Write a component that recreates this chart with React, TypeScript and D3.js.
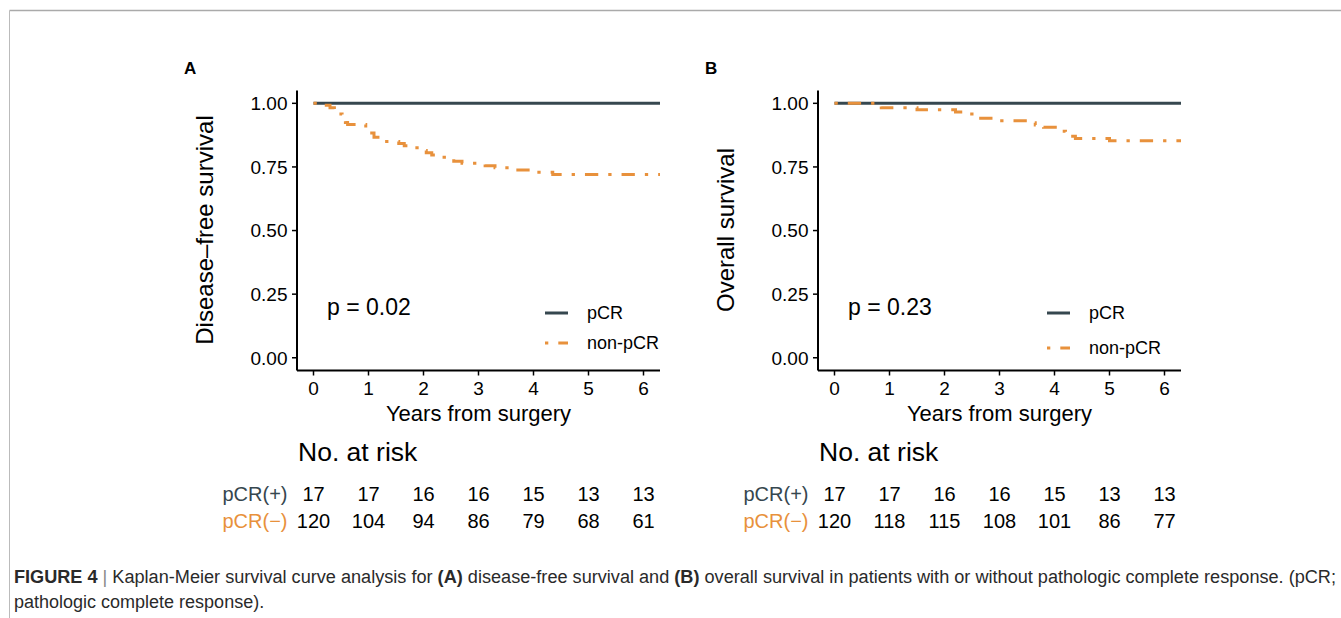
import React from 'react';
import * as d3 from 'd3';

// tick values
const yearTicks = [0, 1, 2, 3, 4, 5, 6];
const survTicks = [0, 0.25, 0.5, 0.75, 1];

// pCR group: no events in either endpoint
const pcrTime = [0, 6.3];
const pcrSurv = [1, 1];

// non-pCR, disease-free survival
const dfsTime = [0, 0.2, 0.3, 0.38, 0.45, 0.52, 0.58, 0.62, 0.95, 1.02, 1.1, 1.2, 1.55, 1.65, 1.78, 1.95, 2.05, 2.15, 2.28, 2.38, 2.55, 2.7, 3.12, 3.3, 3.55, 3.95, 4.35, 6.3];
const dfsSurv = [1, 0.992, 0.983, 0.975, 0.958, 0.942, 0.925, 0.917, 0.9, 0.883, 0.867, 0.85, 0.842, 0.833, 0.825, 0.815, 0.806, 0.797, 0.788, 0.78, 0.772, 0.764, 0.755, 0.747, 0.738, 0.729, 0.72, 0.72];

// non-pCR, overall survival
const osTime = [0, 0.8, 0.85, 1.5, 2.2, 2.45, 2.55, 2.6, 3.0, 3.5, 3.65, 3.8, 4.05, 4.2, 4.3, 4.38, 5.0, 6.3];
const osSurv = [1, 0.992, 0.983, 0.975, 0.966, 0.958, 0.95, 0.941, 0.932, 0.924, 0.915, 0.906, 0.89, 0.881, 0.871, 0.862, 0.853, 0.853];

// numbers at risk
const dfsRiskPos = [17, 17, 16, 16, 15, 13, 13];
const dfsRiskNeg = [120, 104, 94, 86, 79, 68, 61];
const osRiskPos = [17, 17, 16, 16, 15, 13, 13];
const osRiskNeg = [120, 118, 115, 108, 101, 86, 77];

const DARK = '#36474f';
const ORANGE = '#e8913c';
const FONT = '"Liberation Sans", Arial, Helvetica, sans-serif';
const DASH = '3.3 10 13.3 10';

type PanelProps = {
  axisX: number;
  letter: string;
  ylab: string;
  pText: string;
  negTime: number[];
  negSurv: number[];
  riskPos: number[];
  riskNeg: number[];
  legX: number;
  legY2: number;
};

const Panel = ({ axisX, letter, ylab, pText, negTime, negSurv, riskPos, riskNeg, legX, legY2 }: PanelProps) => {
  const x = d3.scaleLinear().domain([-0.3, 6.3]).range([axisX, axisX + 363]);
  const y = d3.scaleLinear().domain([-0.05, 1.05]).range([370.5, 90.6]);

  const line = d3
    .line<[number, number]>()
    .x(d => x(d[0]))
    .y(d => y(d[1]))
    .curve(d3.curveStepAfter);

  const pcrPath = line(pcrTime.map((t, i) => [t, pcrSurv[i]]) as [number, number][]) || '';
  const negPath = line(negTime.map((t, i) => [t, negSurv[i]]) as [number, number][]) || '';
  const yBottom = y(-0.05);

  return (
    <g fontFamily={FONT}>
      <text x={axisX - 113} y={74} fontSize={17} fontWeight="bold">{letter}</text>

      {/* curves */}
      <path d={pcrPath} fill="none" stroke={DARK} strokeWidth={3} />
      <path d={negPath} fill="none" stroke={ORANGE} strokeWidth={3} strokeDasharray={DASH} />

      {/* y axis */}
      <line x1={axisX} x2={axisX} y1={y(1.05)} y2={yBottom} stroke="#000" strokeWidth={2} />
      {survTicks.map(t => (
        <g key={t}>
          <line x1={axisX - 5} x2={axisX} y1={y(t)} y2={y(t)} stroke="#000" strokeWidth={1.5} />
          <text x={axisX - 9.5} y={y(t)} dy="0.36em" textAnchor="end" fontSize={19}>{t.toFixed(2)}</text>
        </g>
      ))}
      <text transform={`translate(${axisX - 84},230) rotate(-90)`} textAnchor="middle" fontSize={24}>{ylab}</text>

      {/* x axis */}
      <line x1={axisX} x2={x(6.3)} y1={yBottom} y2={yBottom} stroke="#000" strokeWidth={2} />
      {yearTicks.map(t => (
        <g key={t}>
          <line x1={x(t)} x2={x(t)} y1={yBottom} y2={yBottom + 5} stroke="#000" strokeWidth={1.5} />
          <text x={x(t)} y={395} textAnchor="middle" fontSize={19}>{t}</text>
        </g>
      ))}
      <text x={x(3)} y={421} textAnchor="middle" fontSize={22}>Years from surgery</text>

      {/* p value and legend */}
      <text x={axisX + 30} y={315} fontSize={23}>{pText}</text>
      <line x1={legX} x2={legX + 23} y1={313} y2={313} stroke={DARK} strokeWidth={3} />
      <text x={legX + 42} y={313} dy="0.35em" fontSize={18}>pCR</text>
      <line x1={legX} x2={legX + 23} y1={legY2} y2={legY2} stroke={ORANGE} strokeWidth={3} strokeDasharray={DASH} />
      <text x={legX + 42} y={legY2} dy="0.35em" fontSize={18}>non-pCR</text>

      {/* risk table */}
      <text x={axisX + 1} y={461} fontSize={26.5}>No. at risk</text>
      <text x={axisX - 9.5} y={501} textAnchor="end" fontSize={20} fill={DARK}>pCR(+)</text>
      <text x={axisX - 9.5} y={528} textAnchor="end" fontSize={20} fill={ORANGE}>pCR(−)</text>
      {yearTicks.map((t, i) => (
        <g key={t}>
          <text x={x(t)} y={501} textAnchor="middle" fontSize={20}>{riskPos[i]}</text>
          <text x={x(t)} y={528} textAnchor="middle" fontSize={20}>{riskNeg[i]}</text>
        </g>
      ))}
    </g>
  );
};

const App = () => (
  <svg width={1341} height={618} style={{ position: 'absolute', left: 0, top: 0, background: '#fff' }}>
    <rect width={1341} height={618} fill="#fff" />
    <line x1={9.5} x2={1341} y1={10.5} y2={10.5} stroke="#aaa" strokeWidth={1.5} />
    <line x1={9.5} x2={9.5} y1={10.5} y2={618} stroke="#bbb" strokeWidth={1} />

    <Panel axisX={297} letter="A" ylab="Disease–free survival" pText="p = 0.02"
      negTime={dfsTime} negSurv={dfsSurv} riskPos={dfsRiskPos} riskNeg={dfsRiskNeg} legX={545} legY2={343} />
    <Panel axisX={818} letter="B" ylab="Overall survival" pText="p = 0.23"
      negTime={osTime} negSurv={osSurv} riskPos={osRiskPos} riskNeg={osRiskNeg} legX={1047} legY2={348} />

    <g fontFamily={FONT} fontSize={18} fill="#2a2a2a">
      <text x={14} y={583} textLength={1322} lengthAdjust="spacingAndGlyphs">
        <tspan fontWeight="bold">FIGURE 4</tspan>
        <tspan fill="#888"> | </tspan>
        <tspan>Kaplan-Meier survival curve analysis for </tspan>
        <tspan fontWeight="bold">(A)</tspan>
        <tspan> disease-free survival and </tspan>
        <tspan fontWeight="bold">(B)</tspan>
        <tspan> overall survival in patients with or without pathologic complete response. (pCR;</tspan>
      </text>
      <text x={14} y={608}>pathologic complete response).</text>
    </g>
  </svg>
);

export default App;
